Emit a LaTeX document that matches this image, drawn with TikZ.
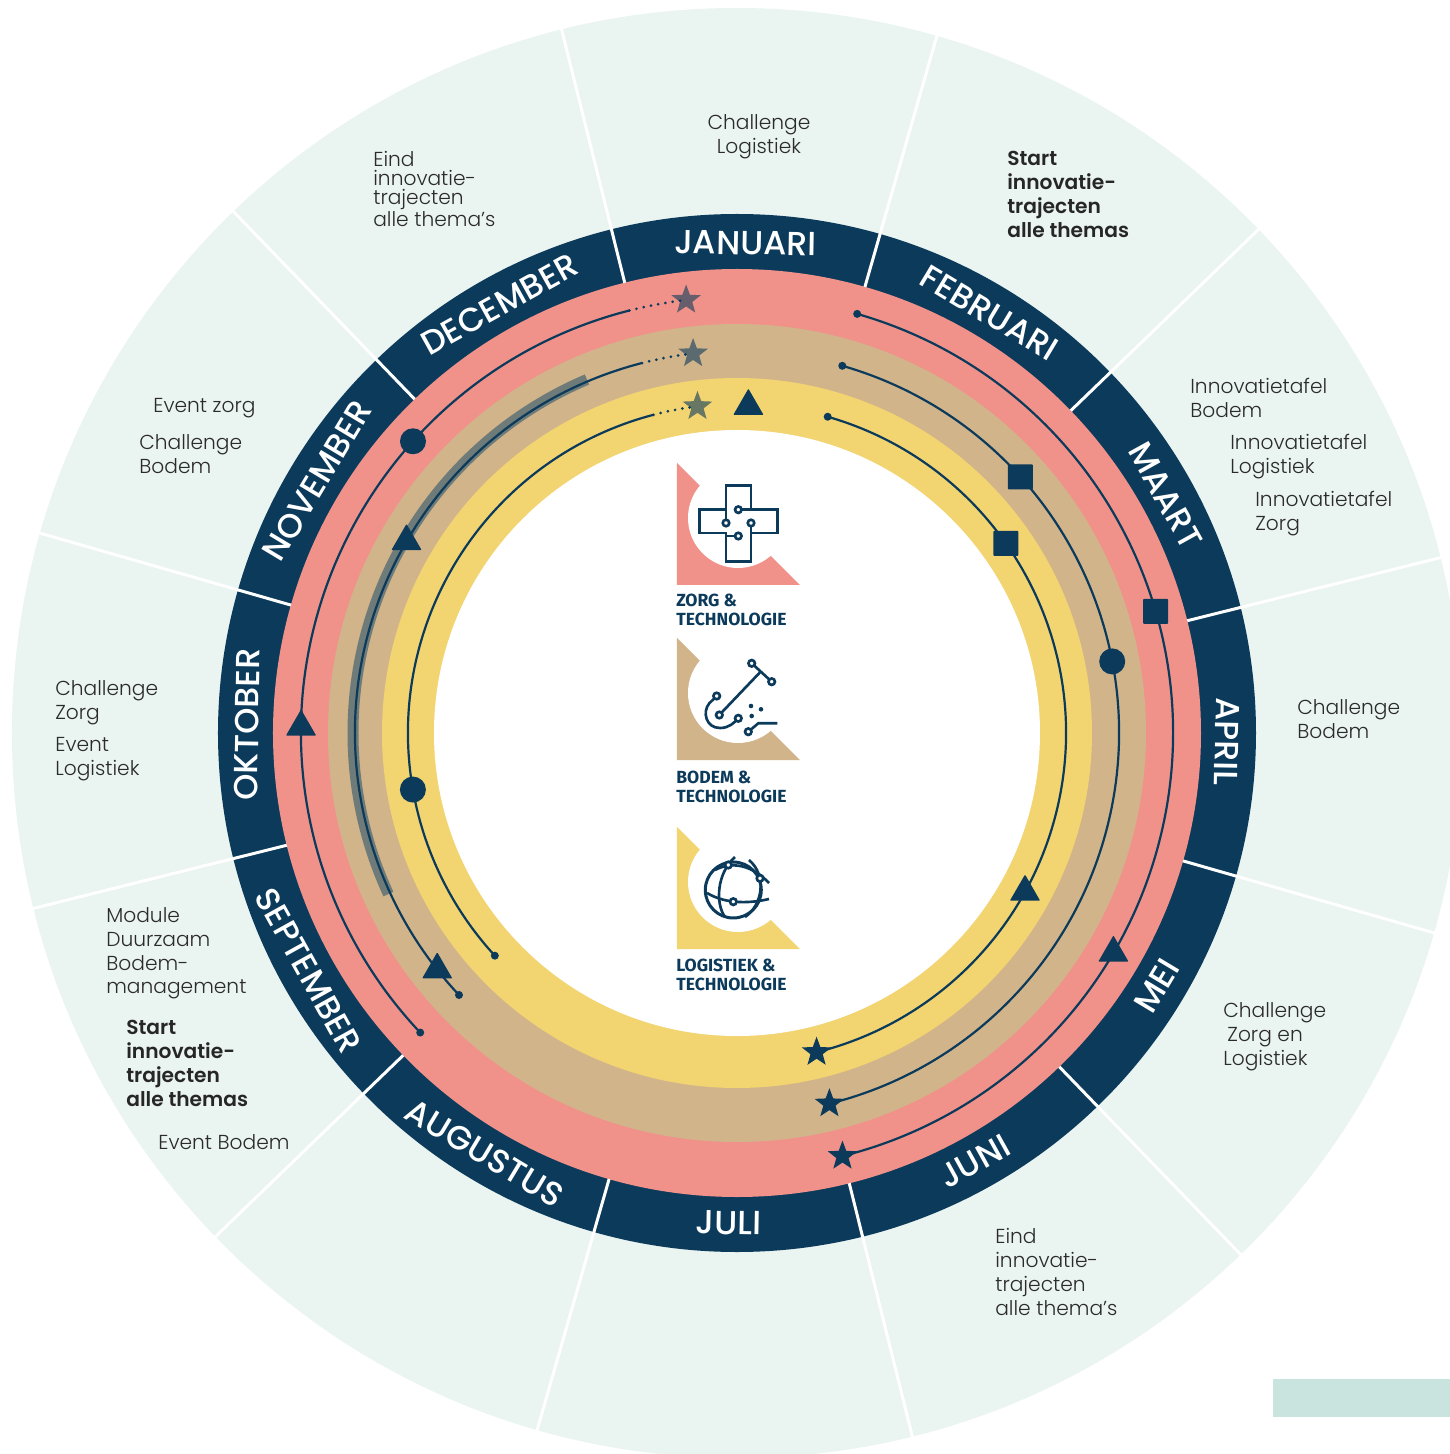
\documentclass[tikz,border=0pt]{standalone}
\usepackage{fontspec}
\setmainfont{Poppins}[UprightFont={* Light}, BoldFont={* SemiBold}]
\newfontfamily\monthfont{Poppins}[UprightFont={* Medium}, BoldFont={* SemiBold}]
\newfontfamily\logofont{Fira Sans}
\usetikzlibrary{shapes.geometric}
\definecolor{navy}{HTML}{0B3A5B}
\definecolor{rosering}{HTML}{F0928A}
\definecolor{sandring}{HTML}{D2B48B}
\definecolor{sunring}{HTML}{F2D471}
\definecolor{mintbg}{HTML}{EAF4F1}
\definecolor{mintbox}{HTML}{C9E4DF}
\definecolor{bandgrey}{HTML}{6E7B78}
\definecolor{labelgrey}{HTML}{2B2B2B}
\tikzstyle{track}=[navy, line width=1.25pt]
\tikzstyle{dotline}=[navy, line width=1.7pt, line cap=round, dash pattern=on 0pt off 4.2pt]
\tikzstyle{dotmark}=[circle, fill=navy, inner sep=0pt, minimum size=0.52cm]
\tikzstyle{sqmark}=[rectangle, fill=navy, inner sep=0pt, minimum size=0.5cm, rounded corners=0.5pt]
\tikzstyle{trimark}=[regular polygon, regular polygon sides=3, fill=navy, inner sep=0pt, minimum size=0.7cm, rounded corners=0.5pt]
\tikzstyle{starmark}=[star, star points=5, star point ratio=2.4, fill=navy, inner sep=0pt, minimum size=0.62cm]
\tikzstyle{topstar}=[starmark, fill opacity=0.6]
\tikzstyle{tipdot}=[circle, fill=navy, inner sep=0pt, minimum size=0.16cm]
\tikzstyle{monthlabel}=[text=white, font=\monthfont\fontsize{19}{20}\selectfont, inner sep=0pt]
\tikzstyle{sidetext}=[text=labelgrey, font=\fontsize{11.5}{13.6}\selectfont, align=left, anchor=north west, inner sep=0pt]
\tikzstyle{tighttext}=[sidetext, font=\fontsize{11.5}{10.8}\selectfont]
\tikzstyle{boldtext}=[sidetext, text=black!85, font=\fontsize{11.5}{13.6}\selectfont\bfseries]
\tikzstyle{logotext}=[text=navy, font=\logofont\bfseries\fontsize{10}{10.8}\selectfont, align=left, anchor=north west, inner sep=0pt]
\tikzstyle{icon}=[navy, line width=1.5pt]
\tikzstyle{pin}=[circle, draw=navy, line width=1.5pt, fill=white, inner sep=0pt, minimum size=0.13cm]

\begin{document}
\begin{tikzpicture}[x=0.02cm, y=0.02cm]
	\clip (-737,-721) rectangle (713,733);
	\fill[white] (-737,-721) rectangle (713,733);
	\fill[mintbg] (0,0) circle[radius=725];
	\fill[mintbox] (536,-646) rectangle (713,-684);
	% rings
	\fill[navy] (0,0) circle[radius=519];
	\fill[rosering] (0,0) circle[radius=464];
	\fill[sandring] (0,0) circle[radius=409];
	\fill[sunring] (0,0) circle[radius=355];
	\fill[white] (0,0) circle[radius=303];
	% months
	\foreach \k in {0,...,11}
		\draw[white, line width=1.7pt] ({104-30*\k}:464) -- ({104-30*\k}:730);
	\foreach \m [count=\k from 0] in {JANUARI,FEBRUARI,MAART,APRIL,MEI,JUNI,JULI,AUGUSTUS,SEPTEMBER,OKTOBER,NOVEMBER,DECEMBER}{
		\pgfmathsetmacro\ang{89-30*\k}
		\pgfmathsetmacro\rot{(\k>3 && \k<9) ? \ang+90 : \ang-90}
		\node[monthlabel, rotate=\rot] (m\k) at (\ang:490) {\m};
	}
	% pink track
	\node[tipdot] (p1) at (74:436) {};
	\coordinate (p2) at (104.3:436);
	\draw[track] (p1.center) arc[start angle=74, end angle=-76, radius=436];
	\draw[dotline] (p2) arc[start angle=104.3, end angle=97.5, radius=436];
	\draw[track] (p2) arc[start angle=104.3, end angle=223.4, radius=436];
	\node[tipdot] (p3) at (223.4:436) {};
	\node[sqmark] (p4) at (16.2:436) {};
	\node[trimark] (p5) at (-30.3:436) {};
	\node[starmark] (p6) at (-76:436) {};
	\node[topstar] (p7) at (96.7:436) {};
	\node[dotmark] (p8) at (138:436) {};
	\node[trimark] (p9) at (179.2:436) {};
	% sand track
	\node[tipdot] (s1) at (74:382) {};
	\coordinate (s2) at (104.4:382);
	\draw[track] (s1.center) arc[start angle=74, end angle=-76, radius=382];
	\draw[dotline] (s2) arc[start angle=104.4, end angle=97.5, radius=382];
	\draw[bandgrey, line width=0.22cm] (113:384) arc[start angle=113, end angle=204.8, radius=384];
	\draw[track] (s2) arc[start angle=104.4, end angle=223.3, radius=382];
	\node[tipdot] (s3) at (223.3:382) {};
	\node[sqmark] (s4) at (42.1:382) {};
	\node[dotmark] (s5) at (10.8:382) {};
	\node[starmark] (s6) at (-76:382) {};
	\node[topstar] (s7) at (96.6:382) {};
	\node[trimark] (s8) at (149.9:382) {};
	\node[trimark] (s9) at (218.3:382) {};
	% sun track
	\node[tipdot] (y1) at (74:329) {};
	\coordinate (y2) at (104.7:329);
	\draw[track] (y1.center) arc[start angle=74, end angle=-76, radius=329];
	\draw[dotline] (y2) arc[start angle=104.7, end angle=97.8, radius=329];
	\draw[track] (y2) arc[start angle=104.7, end angle=222.6, radius=329];
	\node[tipdot] (y3) at (222.6:329) {};
	\node[sqmark] (y4) at (35.2:329) {};
	\node[trimark] (y5) at (-28.9:329) {};
	\node[starmark] (y6) at (-76:329) {};
	\node[topstar] (y7) at (96.9:329) {};
	\node[dotmark] (y8) at (189.9:329) {};
	\node[trimark] (y9) at (88:327) {};
	% logo zorg
	\fill[rosering] (-60,270) -- (-60,148) -- (63,148) -- cycle;
	\fill[white] (1,215) circle[radius=50];
	\draw[icon] (-11,247.7) -- (14,247.7) -- (14,223.3) -- (40.3,223.3) -- (40.3,200) -- (14,200) -- (14,171.7) -- (-11,171.7) -- (-11,200) -- (-37.7,200) -- (-37.7,223.3) -- (-11,223.3) -- cycle;
	\draw[icon] (1.3,223.3) -- (14,223.3);
	\draw[icon] (-11,210) -- (-11,223.3);
	\draw[icon] (14,210) -- (14,200);
	\draw[icon] (1.3,197) -- (-11,197);
	\node[pin] (z1) at (1.3,223.3) {};
	\node[pin] (z2) at (-11,210) {};
	\node[pin] (z3) at (14,210) {};
	\node[pin] (z4) at (1.3,197) {};
	\node[logotext] (zt) at (-61,139) {ZORG \&\\TECHNOLOGIE};
	% logo bodem
	\fill[sandring] (-60,95) -- (-60,-27) -- (63,-27) -- cycle;
	\fill[white] (1,40) circle[radius=50];
	\draw[icon] (14.7,69.7) -- (34.7,51.3);
	\draw[icon] (23.7,61.4) -- (-17.7,18);
	\draw[icon] (-20.3,37) -- (-27.7,29.7) .. controls (-35,21) and (-31,5) .. (-17,5) .. controls (-8,5) and (-3,10) .. (1.3,14.7);
	\draw[icon] (11.3,1.3) -- (21.3,9.7) -- (40.3,9.7);
	\fill[navy] (14,27) circle[radius=2.3];
	\fill[navy] (24,23.7) circle[radius=2.3];
	\fill[navy] (14.7,17) circle[radius=2.3];
	\node[pin] (b1) at (14.7,69.7) {};
	\node[pin] (b2) at (34.7,51.3) {};
	\node[pin] (b3) at (-17.7,18) {};
	\node[pin] (b4) at (-20.3,37) {};
	\node[pin] (b5) at (1.3,14.7) {};
	\node[pin] (b6) at (11.3,1.3) {};
	\node[logotext] (bt) at (-61,-37.5) {BODEM \&\\TECHNOLOGIE};
	% logo logistiek
	\fill[sunring] (-60,-94) -- (-60,-216) -- (63,-216) -- cycle;
	\fill[white] (1,-149) circle[radius=50];
	\draw[navy, line width=1.7pt] (-3.7,-157) circle[radius=28];
	\draw[icon] (-2,-124) .. controls (-20,-140) and (-22,-170) .. (-12,-184);
	\draw[icon] (12,-127) .. controls (30,-142) and (26,-172) .. (8,-184);
	\draw[icon] (-22,-137) .. controls (-5,-128) and (15,-132) .. (32,-150);
	\draw[icon] (-30,-160) .. controls (-10,-172) and (15,-170) .. (32,-166);
	\node[pin] (l1) at (-8.7,-132) {};
	\node[pin] (l2) at (23,-145.3) {};
	\node[pin] (l3) at (-3.7,-168.7) {};
	\node[logotext] (lt) at (-61,-225.5) {LOGISTIEK \&\\TECHNOLOGIE};
	% outer texts
	\node[sidetext, anchor=north, align=center] (t1) at (22,619) {Challenge\\Logistiek};
	\node[tighttext] (t2) at (-364,582) {Eind\\innovatie-\\trajecten\\alle thema’s};
	\node[boldtext] (t3) at (270,582) {Start\\innovatie-\\trajecten\\alle themas};
	\node[sidetext] (t4) at (453,355) {Innovatietafel\\Bodem};
	\node[sidetext] (t5) at (493,299) {Innovatietafel\\Logistiek};
	\node[sidetext] (t6) at (518,242) {Innovatietafel\\Zorg};
	\node[sidetext] (t7) at (560,34) {Challenge\\Bodem};
	\node[sidetext] (t8) at (486,-269) {Challenge\\\hspace{0.2em}Zorg en\\Logistiek};
	\node[sidetext] (t9) at (258,-495) {Eind\\innovatie-\\trajecten\\alle thema’s};
	\node[sidetext] (t10) at (-631,-174) {Module\\Duurzaam\\Bodem-\\management};
	\node[boldtext] (t11) at (-611,-287) {Start\\innovatie-\\trajecten\\alle themas};
	\node[sidetext] (t12) at (-579,-401) {Event Bodem};
	\node[sidetext] (t13) at (-682,53) {Challenge\\Zorg};
	\node[sidetext] (t14) at (-682,-4) {Event\\Logistiek};
	\node[sidetext] (t15) at (-584,335) {Event zorg};
	\node[sidetext] (t16) at (-598,299) {Challenge\\Bodem};
\end{tikzpicture}
\end{document}
